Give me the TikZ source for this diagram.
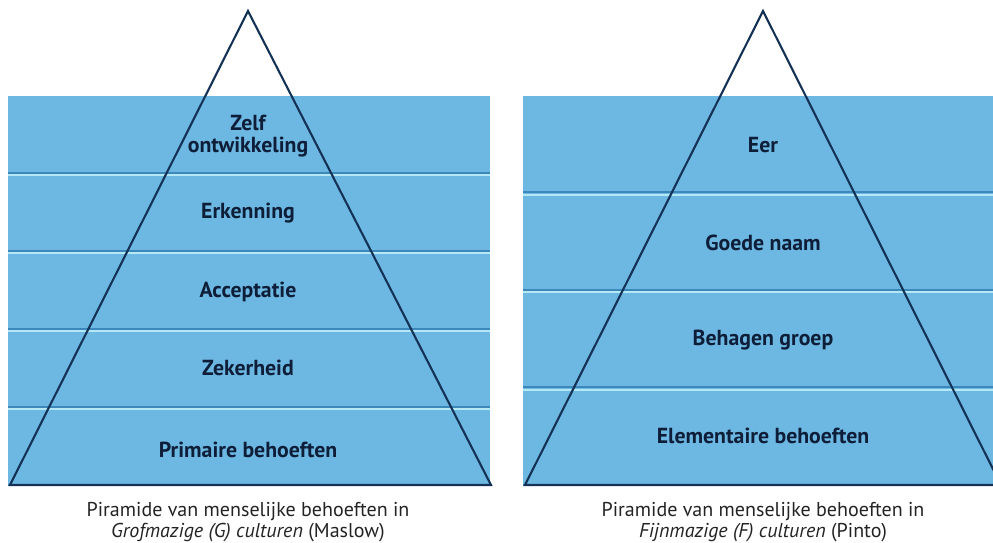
\documentclass[tikz,border=0pt]{standalone}
\usepackage{fontspec}
\setmainfont{PT Sans}
\usetikzlibrary{calc}
\definecolor{bandblue}{RGB}{109,184,227}
\definecolor{sepdark}{RGB}{60,136,186}
\definecolor{seplight}{RGB}{181,232,245}
\definecolor{pyrline}{RGB}{20,50,86}
\definecolor{labeltext}{RGB}{14,30,56}
\definecolor{captext}{RGB}{35,35,35}
\tikzstyle{band} = [fill=bandblue, draw=none]
\tikzstyle{sep} = [draw=sepdark, line width=1.2pt]
\tikzstyle{sepglow} = [draw=seplight, line width=1.1pt]
\tikzstyle{pyramid} = [draw=pyrline, line width=1.2pt, line join=miter]
\tikzstyle{level} = [font=\bfseries\fontsize{12.4}{12.5}\selectfont, text=labeltext, align=center, inner sep=0pt]
\tikzstyle{caption} = [font=\fontsize{11.4}{12}\selectfont, text=captext, align=center, inner sep=0pt]
\newcommand{\bandtop}{96}
\newcommand{\bandbot}{486}

\begin{document}
\begin{tikzpicture}[x=0.02cm, y=-0.02cm]
  \useasboundingbox (0,0) rectangle (993,543);
  \clip (0,0) rectangle (993,543);

  % Left: blue bands
  \fill [band] (8,\bandtop) rectangle (490,\bandbot);
  \foreach \y in {174,252,330,408} {
    \draw [sep] (8,\y-1.3) -- (490,\y-1.3);
    \draw [sepglow] (8,\y+1.2) -- (490,\y+1.2);
  }
  \draw [sep] (8,\bandbot-1) -- (490,\bandbot-1);

  % Right: blue bands
  \fill [band] (523,\bandtop) rectangle (993,\bandbot);
  \foreach \y in {193.5,291,388.5} {
    \draw [sep] (523,\y-1.3) -- (993,\y-1.3);
    \draw [sepglow] (523,\y+1.2) -- (993,\y+1.2);
  }
  \draw [sep] (523,\bandbot-1) -- (993,\bandbot-1);

  % Pyramids
  \coordinate (gtop) at (248,11);
  \coordinate (gleft) at (10,485);
  \coordinate (gright) at (491,485);
  \draw [pyramid] (gleft) -- (gtop) -- (gright) -- cycle;

  \coordinate (ftop) at (763,11);
  \coordinate (fleft) at (525,485);
  \coordinate (fright) at (1001,485);
  \draw [pyramid] (fleft) -- (ftop) -- (fright) -- cycle;

  % Left labels
  \node [level] (zelf) at (248,136) {Zelf\\ontwikkeling};
  \node [level] (erkenning) at (248,213) {Erkenning};
  \node [level] (acceptatie) at (248,292) {Acceptatie};
  \node [level] (zekerheid) at (248,368) {Zekerheid};
  \node [level] (primair) at (248,450) {Primaire behoeften};

  % Right labels
  \node [level] (eer) at (763,145) {Eer};
  \node [level] (naam) at (763,243) {Goede naam};
  \node [level] (groep) at (763,340) {Behagen groep};
  \node [level] (element) at (763,436) {Elementaire behoeften};

  % Captions
  \node [caption] (gcap) at (248,522) {Piramide van menselijke behoeften in\\\textit{Grofmazige (G) culturen} (Maslow)};
  \node [caption] (fcap) at (763,522) {Piramide van menselijke behoeften in\\\textit{Fijnmazige (F) culturen} (Pinto)};
\end{tikzpicture}
\end{document}
